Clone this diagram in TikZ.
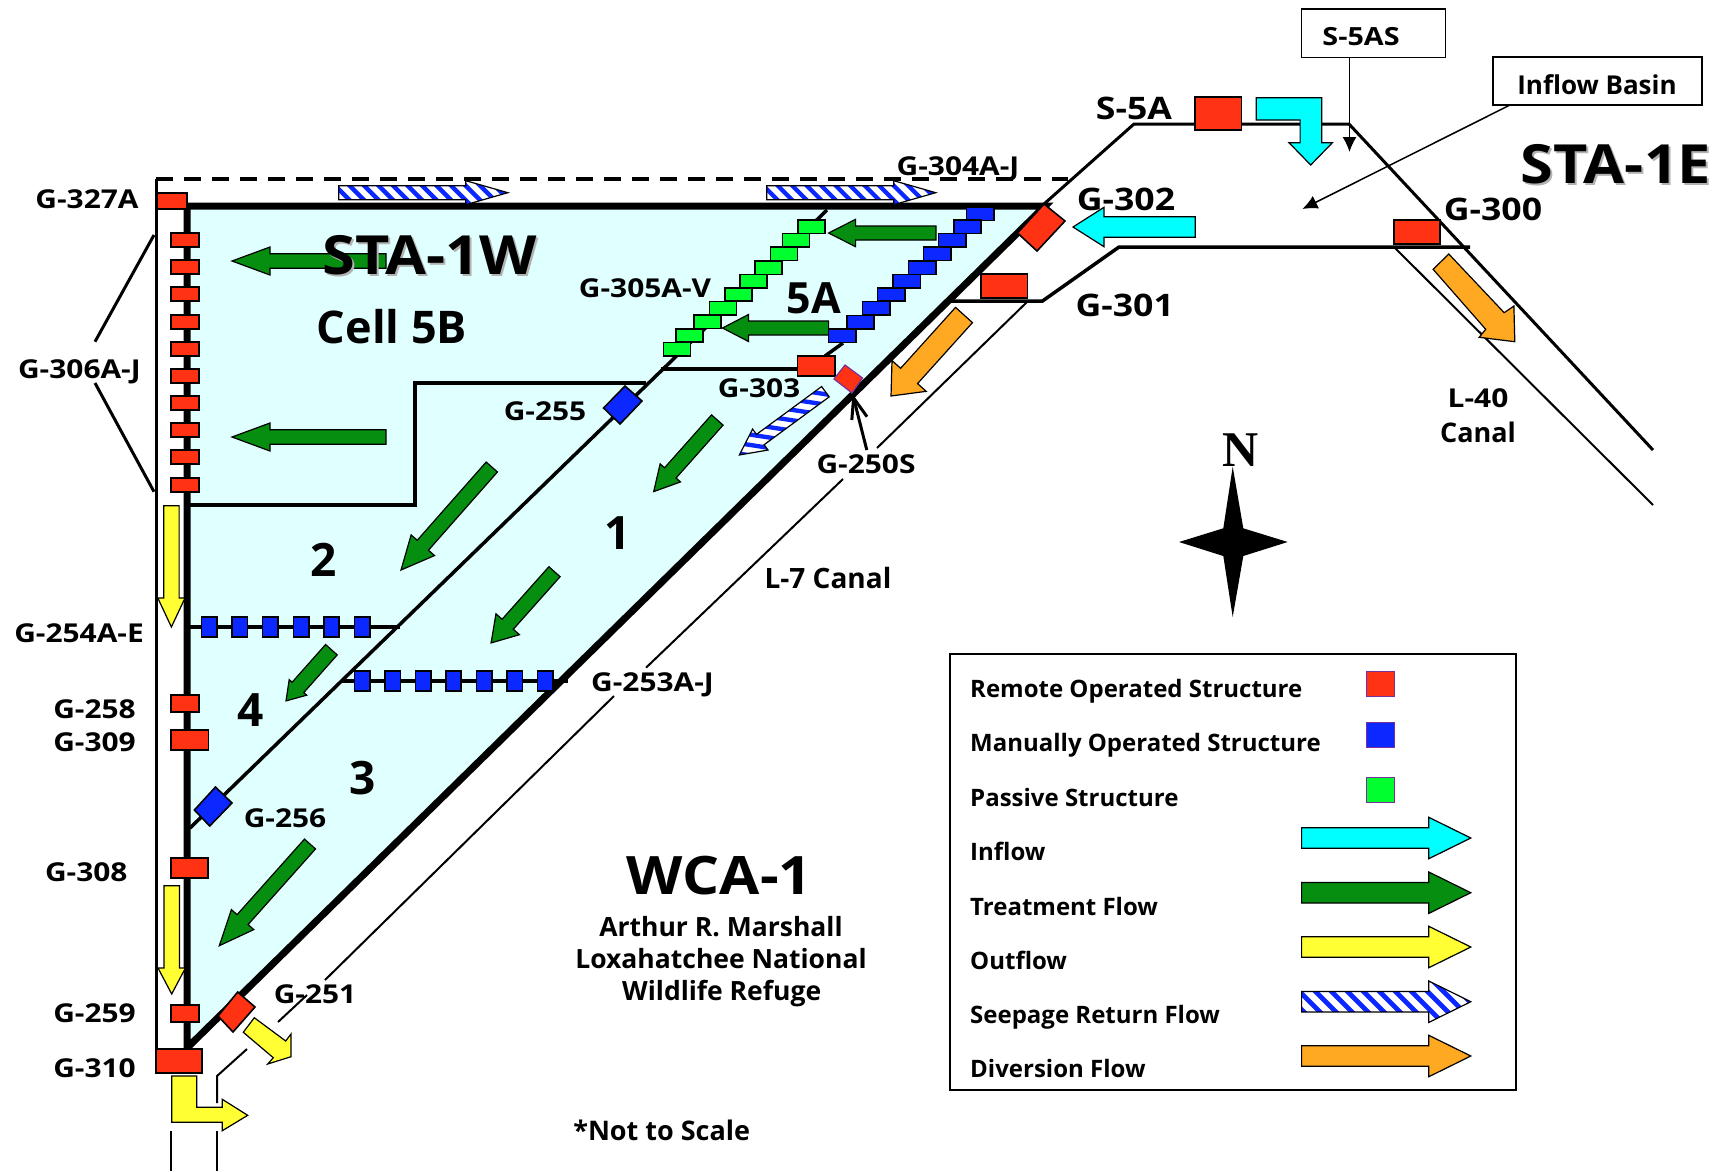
\documentclass[tikz,border=0pt]{standalone}
\usepackage{fontspec}
\setmainfont{Open Sans}
\newfontfamily\northfont{Liberation Serif}
\newfontfamily\widefont{Open Sans}[FakeStretch=1.15]
\newfontfamily\medfont{Open Sans}[FakeStretch=1.1]
\usetikzlibrary{arrows.meta}
\definecolor{rred}{HTML}{FF3314}
\definecolor{mblue}{HTML}{0A28FF}
\definecolor{pgreen}{HTML}{00FF2F}
\definecolor{tgreen}{HTML}{068E10}
\definecolor{inflowc}{HTML}{00FFFF}
\definecolor{outyel}{HTML}{FFFF33}
\definecolor{divor}{HTML}{FFA922}
\definecolor{cellc}{HTML}{E0FFFF}
\definecolor{purp}{HTML}{7A2E9A}
\newcommand{\szfont}[1]{\fontsize{#1}{#1}\selectfont\bfseries}
\newcommand{\szwide}[1]{\widefont\fontsize{#1}{#1}\selectfont\bfseries}
\newcommand{\szmed}[1]{\medfont\fontsize{#1}{#1}\selectfont\bfseries}
% flow arrow: colour, tail x,y, tip x,y, half shaft, half head, head length
\newcommand{\flowarrow}[8]{%
  \pgfmathsetmacro{\fa}{atan2(-(#5-#3),#4-#2)}%
  \pgfmathsetmacro{\fl}{veclen(#4-#2,#5-#3)}%
  \pgfmathsetmacro{\fn}{\fl-#8}%
  \filldraw[arrowline,fill=#1,shift={(#2,#3)},rotate=\fa]
    (0,-#6) -- (\fn,-#6) -- (\fn,-#7) -- (\fl,0) -- (\fn,#7) -- (\fn,#6) -- (0,#6) -- cycle;}
% seepage arrow: striped
\newcommand{\seeparrow}[8]{%
  \pgfmathsetmacro{\fa}{atan2(-(#4-#2),#3-#1)}%
  \pgfmathsetmacro{\fl}{veclen(#3-#1,#4-#2)}%
  \pgfmathsetmacro{\fn}{\fl-#7}%
  \pgfmathsetmacro{\fs}{-40+#8}%
  \begin{scope}[shift={(#1,#2)},rotate=\fa]
    \fill[white] (0,-#5) -- (\fn,-#5) -- (\fn,-#6) -- (\fl,0) -- (\fn,#6) -- (\fn,#5) -- (0,#5) -- cycle;
    \begin{scope}
      \clip (0,-#5) -- (\fn,-#5) -- (\fn,-#6) -- (\fl,0) -- (\fn,#6) -- (\fn,#5) -- (0,#5) -- cycle;
      \foreach \s in {-40,\fs,...,240}{
        \draw[mblue,line width=0.3*#8 pt] (\s,0) ++(-135:40) -- ++(45:80);}
    \end{scope}
    \draw[arrowline] (0,-#5) -- (\fn,-#5) -- (\fn,-#6) -- (\fl,0) -- (\fn,#6) -- (\fn,#5) -- (0,#5) -- cycle;
  \end{scope}}
\newcommand{\rbox}[5]{\filldraw[#5] (#1,#2) rectangle (#3,#4);}
\tikzset{
  arrowline/.style={draw=black,line width=1.2pt,line join=miter},
  struct/.style={draw=black,line width=1.6pt},
  redbox/.style={struct,fill=rred},
  bluebox/.style={struct,fill=mblue},
  greenbox/.style={struct,fill=pgreen},
  legsq/.style={draw=purp,line width=1pt},
  canal/.style={line width=3pt,line cap=butt,line join=miter},
  thincanal/.style={line width=2pt},
  thickline/.style={line width=7pt},
  labelg/.style={inner sep=0pt,yshift=-1pt,font=\szfont{#1},text height=0.714*#1 pt,text depth=0pt,align=center},
  labelw/.style={inner sep=0pt,yshift=-1pt,font=\szwide{#1},text height=0.714*#1 pt,text depth=0pt,align=center},
  labelm/.style={inner sep=0pt,yshift=-1pt,font=\szmed{#1},text height=0.714*#1 pt,text depth=0pt,align=center},
  legtext/.style={inner sep=0pt,anchor=west,font=\szfont{24},text height=17pt,text depth=0pt},
  calloutbox/.style={draw=black,line width=1.6pt,fill=white,inner sep=0pt}
}
\begin{document}
\begin{tikzpicture}[x=1pt,y=-1pt]
\useasboundingbox (0,0) rectangle (1724,1171);
% cell fill
\fill[cellc] (187,206) -- (1045,206) -- (187,1048) -- cycle;
% outer levee and seepage canal
\draw[canal] (156,1048) -- (156,179);
\draw[line width=3.5pt,dash pattern=on 16.5pt off 11.5pt] (156,179) -- (1068,179);
% thick boundary
\draw[thickline,line join=miter] (187,1048) -- (187,206) -- (1045,206) -- (187,1048);
% inflow basin
\draw[canal] (1044,204) -- (1134,124) -- (1349,124) -- (1653,450);
\draw[line width=3.5pt] (950,301) -- (1042.5,301) -- (1119,247) -- (1470,247);
\draw[thincanal] (1395,248) -- (1653,505);
% L-7 canal
\draw[thincanal] (1027,302) -- (877,448);
\draw[thincanal] (843,479) -- (646,667.7);
\draw[thincanal] (614,696) -- (325,980);
\draw[thincanal] (307,995) -- (278,1022);
\draw[thincanal] (247,1049) -- (217,1076) -- (217,1103);
\draw[thincanal] (217,1131) -- (217,1171);
\draw[thincanal] (171,1131) -- (171,1171);
% internal levees
\draw[line width=3.5pt] (827,210) -- (190,828);
\draw[line width=3.5pt] (843,343) -- (825,356);
\draw[line width=3.5pt] (190,505) -- (415,505) -- (415,383) -- (646,383);
\draw[line width=3.5pt] (661,369) -- (798,369);
\draw[line width=3.5pt] (190,627) -- (400,627);
\draw[line width=3.5pt] (340.6,681) -- (568,681);
% leaders for G-306
\draw[canal] (95,341.7) -- (154,235);
\draw[canal] (95,383) -- (154,491.7);
% treatment flow arrows
\flowarrow{tgreen}{386}{261}{232}{261}{7.3}{14}{38}
\flowarrow{tgreen}{386}{437}{232}{437}{7.3}{14}{38}
\flowarrow{tgreen}{936}{233}{828.6}{233}{7}{13.7}{27}
\flowarrow{tgreen}{828.6}{328}{722.5}{328}{7}{13.5}{26}
\flowarrow{tgreen}{717.3}{420}{653.6}{491.7}{7.7}{13.6}{25}
\flowarrow{tgreen}{491.8}{467}{401}{570}{7.5}{15.6}{33}
\flowarrow{tgreen}{554.5}{571.7}{491}{643}{7.5}{15.7}{25}
\flowarrow{tgreen}{331.4}{649.7}{285.9}{701}{7.8}{11.7}{18}
\flowarrow{tgreen}{310}{844}{219.3}{945.7}{7.4}{15}{35}
% outflow
\flowarrow{outyel}{171.4}{505.7}{171.4}{627}{7.7}{13.6}{29}
\flowarrow{outyel}{171.7}{885.7}{171.7}{994}{7.7}{13.7}{26}
\filldraw[arrowline,fill=outyel] (254.3,1017.7) -- (243.3,1032.3) -- (273.3,1057.7) -- (267.7,1064) -- (291,1056.7) -- (291,1034) -- (285.7,1041) -- cycle;
\filldraw[arrowline,fill=outyel] (171.7,1076) -- (196.7,1076) -- (196.7,1107.3) -- (222.3,1107.3) -- (222.3,1099.3) -- (247.7,1115.3) -- (222.3,1130.7) -- (222.3,1122.3) -- (171.7,1122.3) -- cycle;
% inflow
\filldraw[arrowline,fill=inflowc] (1256.2,97.7) -- (1321.8,97.7) -- (1321.8,142.7) -- (1332.4,142.7) -- (1310.7,165) -- (1289,142.7) -- (1300.1,142.7) -- (1300.1,120) -- (1256.2,120) -- cycle;
\flowarrow{inflowc}{1195.3}{227}{1073}{227}{10.3}{19.7}{31}
% diversion
\flowarrow{divor}{964}{315}{891}{396}{11.4}{23}{27}
\filldraw[arrowline,fill=divor] (1448.8,254) -- (1433.1,269.3) -- (1485.7,329.3) -- (1479.2,337.3) -- (1514.8,341.7) -- (1513.9,306) -- (1504.2,312.7) -- cycle;
% seepage
\seeparrow{338.7}{192.7}{507.8}{192.7}{7}{12}{42}{14.5}
\seeparrow{766.8}{192.7}{935.7}{192.7}{7}{12}{42}{14.5}
\seeparrow{825.4}{391.7}{739.3}{455}{6.4}{13}{26}{14.5}
% stair-step structures
\foreach \cx/\cy in {980/213.7,967.5/226.7,952/240,937/253.7,922/267.7,906.6/281,891/294.5,876/308,860.5/322,842/335.7}{
  \filldraw[bluebox] (\cx-13.7,\cy-6.7) rectangle (\cx+13.7,\cy+6.7);}
\foreach \cx/\cy in {811.6/226.7,796/240,784/253.7,768.6/267.7,753.4/281,738.4/294.5,723/308,707.7/321.7,689.5/335.5,677/349}{
  \filldraw[greenbox] (\cx-13.5,\cy-6.7) rectangle (\cx+13.5,\cy+6.7);}
% G-306
\foreach \cy in {240,267,294,322,349,376,403,430,457,485}{
  \filldraw[redbox] (171,\cy-7) rectangle (199,\cy+7);}
% G-254, G-253
\foreach \cx in {209,239.6,270,301,331.4,362}{
  \filldraw[bluebox] (\cx-7.7,617) rectangle (\cx+7.7,637);}
\foreach \cx in {362,392.6,423,453.5,484,514.7,545}{
  \filldraw[bluebox] (\cx-7.7,671) rectangle (\cx+7.7,691);}
% red rectangles
\rbox{157}{193}{187}{209}{redbox}
\rbox{171}{695}{199}{712}{redbox}
\rbox{171}{730}{208.6}{750}{redbox}
\rbox{171}{858}{208}{878}{redbox}
\rbox{171}{1005}{199}{1022}{redbox}
\rbox{156}{1049}{202}{1073}{redbox}
\rbox{1195}{97}{1241.5}{130}{redbox}
\rbox{1394}{220}{1440}{244}{redbox}
\rbox{981}{274}{1027.5}{298}{redbox}
\rbox{797.5}{356}{835}{376}{redbox}
% rotated structures
\filldraw[redbox] (1044,204) -- (1065,221) -- (1037,251) -- (1017.5,233) -- cycle;
\filldraw[draw=purp,line width=1.2pt,fill=rred] (845,365) -- (862.5,378) -- (852,393) -- (834,379) -- cycle;
\filldraw[bluebox] (625,386) -- (642,401) -- (620,424) -- (603.6,408) -- cycle;
\filldraw[bluebox] (215.5,787) -- (232,803) -- (209.7,826) -- (194.4,810) -- cycle;
\filldraw[redbox] (237.7,992) -- (255,1007) -- (233,1032) -- (218,1016) -- cycle;
% compass
\fill[black] (1232.7,466.7) -- (1243.3,528.3) -- (1287.7,542) -- (1243.3,556) -- (1232.7,617) -- (1223.3,556) -- (1179,542) -- (1223.3,528.3) -- cycle;
\node[inner sep=0pt] (north) at (1240.7,450) {\northfont\fontsize{50}{50}\selectfont\bfseries N};
% callouts
\node[calloutbox,minimum width=144pt,minimum height=48.5pt] (s5asbox) at (1373.5,33.2) {};
\node[calloutbox,minimum width=208.8pt,minimum height=48pt] (inflowbox) at (1597.4,81) {};
\node[labelw=25] (s5astext) at (1361,36) {S-5AS};
\node[labelg=26] (inflowtext) at (1597,84) {Inflow Basin};
\coordinate (s5astip) at (1349.5,152);
\coordinate (inflowtip) at (1302.4,209);
\draw[line width=1.5pt,-{Latex[length=15pt,width=14pt]}] (1349.5,57.5) -- (s5astip);
\draw[line width=1.5pt,-{Latex[length=15pt,width=14pt]}] (1509,105.5) -- (inflowtip);
% labels
\node[labelw=26] (g327a) at (87,198) {G-327A};
\node[labelw=26] (g306) at (79.4,368) {G-306A-J};
\node[labelw=26] (g255) at (545,410) {G-255};
\node[labelw=26] (g304) at (958,165) {G-304A-J};
\node[labelw=26] (g305) at (645,287.5) {G-305A-V};
\node[labelw=26] (g303) at (759,387.5) {G-303};
\node[labelw=26] (g250s) at (866,463.5) {G-250S};
\coordinate (g250tip) at (853.6,398);
\coordinate (g250a) at (851.8,420);
\coordinate (g250b) at (867,416.7);
\draw[line width=3pt] (866.8,450) -- (g250tip);
\draw[line width=3pt,line join=miter] (g250a) -- (g250tip) -- (g250b);
\node[labelw=31] (g302) at (1126,198.5) {G-302};
\node[labelw=31] (g301) at (1124.7,304.5) {G-301};
\node[labelw=31] (s5a) at (1134,107) {S-5A};
\node[labelw=31] (g300) at (1493,208.5) {G-300};
\node[labelw=26] (l40) at (1478,397) {L-40};
\node[labelg=27] (canal40) at (1478,431.5) {Canal};
\node[labelg=28] (l7) at (828,577.5) {L-7 Canal};
\node[labelw=26] (g253) at (652.5,681.7) {G-253A-J};
\node[labelw=26] (g254) at (79,632.7) {G-254A-E};
\node[labelw=26] (g258) at (94.5,708) {G-258};
\node[labelw=26] (g309) at (94.5,741.7) {G-309};
\node[labelw=26] (g256) at (285,817) {G-256};
\node[labelw=26] (g308) at (86.3,871.7) {G-308};
\node[labelw=26] (g259) at (94.5,1012) {G-259};
\node[labelw=26] (g310) at (94.5,1067) {G-310};
\node[labelw=26] (g251) at (315,993) {G-251};
\node[labelg=45] (cell5b) at (392,326) {Cell 5B};
\node[labelg=43] (fivea) at (814,297) {5A};
\node[labelg=46] (one) at (618,532) {1};
\node[labelg=46] (two) at (323.8,559) {2};
\node[labelg=46] (three) at (362.4,777) {3};
\node[labelg=46] (four) at (250.7,709) {4};
\node[labelm=54,text=black!30] (sta1wshadow) at (432,256) {STA-1W};
\node[labelm=54] (sta1w) at (430,254) {STA-1W};
\node[labelm=54,text=black!30] (sta1eshadow) at (1618,165) {STA-1E};
\node[labelm=54] (sta1e) at (1616,163) {STA-1E};
\node[labelm=53] (wca) at (719.5,875) {WCA-1};
\node[labelg=26.5] (marshall) at (721,926) {Arthur R. Marshall};
\node[labelg=26.5] (lox) at (721,958.5) {Loxahatchee National};
\node[labelg=26.5] (refuge) at (721.7,990) {Wildlife Refuge};
\node[labelg=27] (scale) at (661.7,1129.5) {*Not to Scale};
% legend
\node[draw=black,line width=2pt,inner sep=0pt,minimum width=566pt,minimum height=436pt] (legend) at (1233,872) {};
\rbox{1366}{671}{1394}{696}{legsq,fill=rred}
\rbox{1366}{722}{1394}{747}{legsq,fill=mblue}
\rbox{1366}{777}{1394}{802}{legsq,fill=pgreen}
\flowarrow{inflowc}{1301.6}{838}{1470.8}{838}{10.3}{20.7}{42}
\flowarrow{tgreen}{1301.6}{892.7}{1470.8}{892.7}{10.3}{20.7}{42}
\flowarrow{outyel}{1301.6}{947}{1470.8}{947}{10.3}{20.7}{42}
\seeparrow{1301.6}{1001.7}{1470.8}{1001.7}{10.3}{20.7}{42}{16}
\flowarrow{divor}{1301.6}{1056}{1470.8}{1056}{10.3}{20.7}{42}
\node[legtext] (lremote) at (970,689) {Remote Operated Structure};
\node[legtext] (lmanual) at (970,743) {Manually Operated Structure};
\node[legtext] (lpassive) at (970,798) {Passive Structure};
\node[legtext] (linflow) at (970,852) {Inflow};
\node[legtext] (ltreat) at (970,907) {Treatment Flow};
\node[legtext] (loutflow) at (970,961) {Outflow};
\node[legtext] (lseep) at (970,1015) {Seepage Return Flow};
\node[legtext] (ldiv) at (970,1069) {Diversion Flow};
\end{tikzpicture}
\end{document}
